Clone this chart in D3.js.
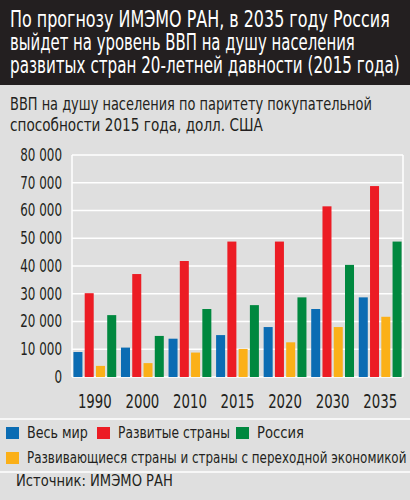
<!DOCTYPE html>
<html>
<head>
<meta charset="utf-8">
<script src="https://cdn.jsdelivr.net/npm/d3@7"></script>
<style>
  body { margin: 0; background: #dfdfdf; }
  svg text { font-family: "DejaVu Sans Condensed", "DejaVu Sans", sans-serif; }
</style>
</head>
<body>
<div id="chart"></div>
<script>
// данные
const years = ['1990', '2000', '2010', '2015', '2020', '2030', '2035'];
const world = [9000, 10600, 13800, 15100, 18000, 24500, 28700];
const developed = [30200, 37100, 41800, 48800, 48800, 61500, 68800];
const developing = [4000, 5000, 8800, 10100, 12500, 18000, 21700];
const russia = [22300, 14800, 24500, 25900, 28700, 40400, 48800];
const yTicks = [0, 10000, 20000, 30000, 40000, 50000, 60000, 70000, 80000];

const titleLines = [
  'По прогнозу ИМЭМО РАН, в 2035 году Россия',
  'выйдет на уровень ВВП на душу населения',
  'развитых стран 20-летней давности (2015 года)'
];
const subtitleLines = [
  'ВВП на душу населения по паритету покупательной',
  'способности 2015 года, долл. США'
];

const series = [
  { key: 'world', name: 'Весь мир', color: '#0b6cb3', values: world },
  { key: 'developed', name: 'Развитые страны', color: '#ec1c24', values: developed },
  { key: 'developing', name: 'Развивающиеся страны и страны с переходной экономикой', color: '#fbb018', values: developing },
  { key: 'russia', name: 'Россия', color: '#00883f', values: russia }
];

const width = 410;
const height = 500;

// узкий шрифт как в оригинале: сжимаем текст по горизонтали
// (текст стоит в точке 0,0 своей группы, масштаб вокруг неё)
function squeeze(sel, k) {
  sel.attr('transform', `scale(${k},1)`);
}
function fitTo(sel, w) {
  sel.each(function (d, i) {
    const target = typeof w === 'function' ? w(d, i) : w[i];
    const len = this.getComputedTextLength();
    d3.select(this).attr('transform', `scale(${target / len},1)`);
  });
}

const svg = d3.select('#chart').append('svg')
  .attr('width', width)
  .attr('height', height);

svg.append('rect').attr('width', width).attr('height', height).attr('fill', '#dfdfdf');

// шапка
svg.append('rect').attr('width', width).attr('height', 85).attr('fill', '#231f20');
svg.append('g').selectAll('g')
  .data(titleLines)
  .enter().append('g')
  .attr('transform', (d, i) => `translate(10,${27 + i * 23})`)
  .append('text')
  .attr('fill', '#ffffff')
  .attr('font-size', 23)
  .text(d => d)
  .call(fitTo, [380, 345, 390]);

svg.append('g').selectAll('g')
  .data(subtitleLines)
  .enter().append('g')
  .attr('transform', (d, i) => `translate(10,${110 + i * 21})`)
  .append('text')
  .attr('fill', '#231f20')
  .attr('font-size', 18)
  .text(d => d)
  .call(fitTo, [362, 253]);

// шкалы
const x = d3.scaleBand().domain(years).range([72, 403]).paddingInner(0.1).paddingOuter(0.03);
const xs = d3.scaleBand().domain(series.map(s => s.key)).range([0, x.bandwidth()]).paddingInner(0.2);
const y = d3.scaleLinear().domain([0, 80000]).range([377, 155]);
const fmt = v => d3.format(',')(v).replace(/,/g, ' ');

// сетка
const grid = svg.append('g');
grid.selectAll('line')
  .data(yTicks)
  .enter().append('line')
  .attr('x1', 72).attr('x2', 403)
  .attr('y1', d => y(d)).attr('y2', d => y(d))
  .attr('stroke', '#ffffff').attr('stroke-width', 1.5);
grid.append('line').attr('x1', 72).attr('x2', 72).attr('y1', y(80000)).attr('y2', y(0))
  .attr('stroke', '#ffffff').attr('stroke-width', 1.5);
grid.append('line').attr('x1', 403).attr('x2', 403).attr('y1', y(80000)).attr('y2', y(0))
  .attr('stroke', '#ffffff').attr('stroke-width', 1.5);

// ось Y
const yAxis = d3.axisLeft(y).tickValues(yTicks).tickFormat(fmt).tickSize(0).tickPadding(0);
svg.append('g')
  .attr('transform', 'translate(62,0)')
  .call(yAxis)
  .call(g => g.select('.domain').remove())
  .selectAll('text')
  .attr('x', 0)
  .attr('font-size', 17)
  .attr('fill', '#231f20')
  .call(squeeze, 0.78);

// ось X
const xAxis = d3.axisBottom(x).tickSize(0).tickPadding(0);
svg.append('g')
  .attr('transform', 'translate(0,393)')
  .call(xAxis)
  .call(g => g.select('.domain').remove())
  .selectAll('text')
  .attr('y', 0)
  .attr('font-size', 20)
  .attr('fill', '#231f20')
  .attr('dy', '0.73em')
  .call(squeeze, 0.74);

// столбики
const groups = svg.append('g').selectAll('g')
  .data(years)
  .enter().append('g')
  .attr('transform', d => `translate(${x(d)},0)`);

groups.selectAll('rect')
  .data((d, i) => series.map(s => ({ key: s.key, color: s.color, value: s.values[i] })))
  .enter().append('rect')
  .attr('x', d => xs(d.key))
  .attr('width', xs.bandwidth())
  .attr('y', d => y(d.value))
  .attr('height', d => y(0) - y(d.value))
  .attr('fill', d => d.color);

// легенда
svg.append('line').attr('x1', 0).attr('x2', width).attr('y1', 419).attr('y2', 419)
  .attr('stroke', '#ffffff').attr('stroke-width', 1.5);
svg.append('line').attr('x1', 0).attr('x2', width).attr('y1', 472).attr('y2', 472)
  .attr('stroke', '#ffffff').attr('stroke-width', 1.5);

const legendItems = [
  { s: series[0], x: 6, y: 427, w: 61 },
  { s: series[1], x: 97, y: 427, w: 112 },
  { s: series[3], x: 236, y: 427, w: 47 },
  { s: series[2], x: 6, y: 452, w: 380 }
];
const legend = svg.append('g').selectAll('g')
  .data(legendItems)
  .enter().append('g')
  .attr('transform', d => `translate(${d.x},${d.y})`);
legend.append('rect')
  .attr('width', 13).attr('height', 12)
  .attr('fill', d => d.s.color);
legend.append('g')
  .attr('transform', 'translate(21,11)')
  .append('text')
  .attr('font-size', 16)
  .attr('fill', '#231f20')
  .text(d => d.s.name)
  .call(fitTo, d => d.w);

svg.append('g')
  .attr('transform', 'translate(16,486)')
  .append('text')
  .attr('font-size', 16)
  .attr('fill', '#231f20')
  .text('Источник: ИМЭМО РАН')
  .call(fitTo, [157]);
</script>
</body>
</html>
